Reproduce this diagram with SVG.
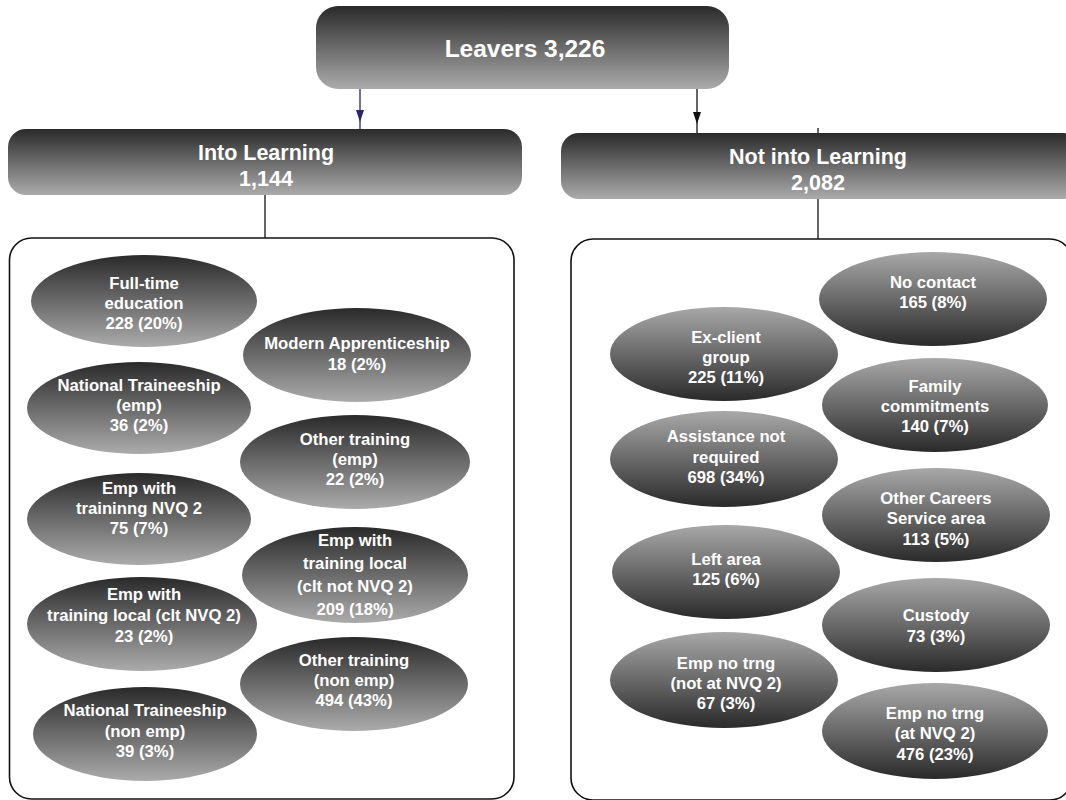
<svg xmlns="http://www.w3.org/2000/svg" width="1066" height="800" viewBox="0 0 1066 800">
  <defs>
    <!-- dark at the top, fading lighter downwards -->
    <linearGradient id="shadeDown" x1="0" y1="0" x2="0" y2="1">
      <stop offset="0" stop-color="#2a2a2a"/>
      <stop offset="1" stop-color="#ababab"/>
    </linearGradient>
    <!-- light at the top, fading darker downwards -->
    <linearGradient id="shadeUp" x1="0" y1="0" x2="0" y2="1">
      <stop offset="0" stop-color="#a8a8a8"/>
      <stop offset="1" stop-color="#2a2a2a"/>
    </linearGradient>
    <!-- arrowheads drawn along +x so orient="auto" turns them with the line -->
    <marker id="headBlack" markerWidth="12" markerHeight="8" refX="12" refY="4" orient="auto" markerUnits="userSpaceOnUse" viewBox="0 0 12 8">
      <path d="M0 0 L12 4 L0 8 Z" fill="#111"/>
    </marker>
    <marker id="headBlue" markerWidth="12" markerHeight="8" refX="12" refY="4" orient="auto" markerUnits="userSpaceOnUse" viewBox="0 0 12 8">
      <path d="M0 0 L12 4 L0 8 Z" fill="#2b2370"/>
    </marker>
  </defs>
  <style>
    text { font-family: "Liberation Sans", Arial, sans-serif; font-weight: bold; fill: #ffffff; text-anchor: middle; }
    .title { font-size: 24.5px; }
    .sub { font-size: 21.5px; }
    .lbl { font-size: 16.7px; }
    .box { fill: url(#shadeDown); }
    .inL { fill: url(#shadeDown); }
    .notL { fill: url(#shadeUp); }
    .frame { fill: none; stroke: #111; stroke-width: 1.6; }
    .wire { fill: none; stroke: #111; stroke-width: 1.3; }
  </style>

  <rect width="1066" height="800" fill="#ffffff"/>

  <!-- connectors -->
  <g id="connectors">
    <path class="wire" d="M360 89 V122 V129" style="stroke:#2b2370" marker-mid="url(#headBlue)"/>
    <path class="wire" d="M697 89 V124 V133" marker-mid="url(#headBlack)"/>
    <path class="wire" d="M818 128 V133"/>
    <path class="wire" d="M265 195 V238"/>
    <path class="wire" d="M818 199 V239"/>
  </g>

  <!-- top node -->
  <g id="leavers">
    <rect class="box" x="316" y="6" width="413" height="83" rx="22"/>
    <text class="title" x="525" y="57">Leavers 3,226</text>
  </g>

  <g id="into-learning">
    <rect class="box" x="8" y="129" width="514" height="66" rx="18"/>
    <text class="sub" x="266" y="160">Into Learning</text>
    <text class="sub" x="266" y="186">1,144</text>
  </g>

  <g id="not-into-learning">
    <rect class="box" x="561" y="133" width="520" height="66" rx="18"/>
    <text class="sub" x="818" y="164">Not into Learning</text>
    <text class="sub" x="818" y="190">2,082</text>
  </g>

  <!-- group frames -->
  <g id="into-learning-frame">
    <rect class="frame" x="9.5" y="238" width="504.5" height="561" rx="22"/>
  </g>
  <g id="not-into-learning-frame">
    <rect class="frame" x="571" y="239" width="501" height="561" rx="22"/>
  </g>

  <!-- destinations: into learning -->
  <g id="full-time-education">
    <ellipse class="inL" cx="144" cy="301" rx="113" ry="46"/>
    <text class="lbl" x="144" y="289">Full-time</text>
    <text class="lbl" x="144" y="309">education</text>
    <text class="lbl" x="144" y="329">228 (20%)</text>
  </g>
  <g id="modern-apprenticeship">
    <ellipse class="inL" cx="357" cy="355" rx="114" ry="47"/>
    <text class="lbl" x="357" y="349">Modern Apprenticeship</text>
    <text class="lbl" x="357" y="370">18 (2%)</text>
  </g>
  <g id="national-traineeship-emp">
    <ellipse class="inL" cx="139" cy="408" rx="112" ry="46"/>
    <text class="lbl" x="139" y="391">National Traineeship</text>
    <text class="lbl" x="139" y="411">(emp)</text>
    <text class="lbl" x="139" y="431">36 (2%)</text>
  </g>
  <g id="other-training-emp">
    <ellipse class="inL" cx="355" cy="462" rx="115" ry="47"/>
    <text class="lbl" x="355" y="445">Other training</text>
    <text class="lbl" x="355" y="465">(emp)</text>
    <text class="lbl" x="355" y="485">22 (2%)</text>
  </g>
  <g id="emp-training-nvq2">
    <ellipse class="inL" cx="139" cy="519" rx="112" ry="46"/>
    <text class="lbl" x="139" y="494">Emp with</text>
    <text class="lbl" x="139" y="514">traininng NVQ 2</text>
    <text class="lbl" x="139" y="534">75 (7%)</text>
  </g>
  <g id="emp-training-local-not-nvq2">
    <ellipse class="inL" cx="355" cy="575" rx="113" ry="48"/>
    <text class="lbl" x="355" y="546">Emp with</text>
    <text class="lbl" x="355" y="569">training local</text>
    <text class="lbl" x="355" y="592">(clt not NVQ 2)</text>
    <text class="lbl" x="355" y="615">209 (18%)</text>
  </g>
  <g id="emp-training-local-nvq2">
    <ellipse class="inL" cx="142" cy="624" rx="115" ry="47"/>
    <text class="lbl" x="144" y="600">Emp with</text>
    <text class="lbl" x="144" y="621">training local (clt NVQ 2)</text>
    <text class="lbl" x="144" y="642">23 (2%)</text>
  </g>
  <g id="other-training-non-emp">
    <ellipse class="inL" cx="354" cy="684" rx="114" ry="47"/>
    <text class="lbl" x="354" y="666">Other training</text>
    <text class="lbl" x="354" y="686">(non emp)</text>
    <text class="lbl" x="354" y="706">494 (43%)</text>
  </g>
  <g id="national-traineeship-non-emp">
    <ellipse class="inL" cx="145" cy="734" rx="112" ry="47"/>
    <text class="lbl" x="145" y="716">National Traineeship</text>
    <text class="lbl" x="145" y="737">(non emp)</text>
    <text class="lbl" x="145" y="757">39 (3%)</text>
  </g>

  <!-- destinations: not into learning -->
  <g id="no-contact">
    <ellipse class="notL" cx="933" cy="299" rx="114" ry="47"/>
    <text class="lbl" x="933" y="288">No contact</text>
    <text class="lbl" x="933" y="308">165 (8%)</text>
  </g>
  <g id="ex-client-group">
    <ellipse class="notL" cx="724" cy="354" rx="114" ry="47"/>
    <text class="lbl" x="726" y="343">Ex-client</text>
    <text class="lbl" x="726" y="363">group</text>
    <text class="lbl" x="726" y="383">225 (11%)</text>
  </g>
  <g id="family-commitments">
    <ellipse class="notL" cx="935" cy="405" rx="113" ry="47"/>
    <text class="lbl" x="935" y="392">Family</text>
    <text class="lbl" x="935" y="412">commitments</text>
    <text class="lbl" x="935" y="432">140 (7%)</text>
  </g>
  <g id="assistance-not-required">
    <ellipse class="notL" cx="724" cy="459" rx="114" ry="48"/>
    <text class="lbl" x="726" y="442">Assistance not</text>
    <text class="lbl" x="726" y="463">required</text>
    <text class="lbl" x="726" y="483">698 (34%)</text>
  </g>
  <g id="other-careers-service-area">
    <ellipse class="notL" cx="936" cy="515" rx="114" ry="47"/>
    <text class="lbl" x="936" y="504">Other Careers</text>
    <text class="lbl" x="936" y="524">Service area</text>
    <text class="lbl" x="936" y="545">113 (5%)</text>
  </g>
  <g id="left-area">
    <ellipse class="notL" cx="726" cy="572" rx="114" ry="47"/>
    <text class="lbl" x="726" y="565">Left area</text>
    <text class="lbl" x="726" y="585">125 (6%)</text>
  </g>
  <g id="custody">
    <ellipse class="notL" cx="936" cy="625" rx="114" ry="47"/>
    <text class="lbl" x="936" y="621">Custody</text>
    <text class="lbl" x="936" y="642">73 (3%)</text>
  </g>
  <g id="emp-no-trng-not-nvq2">
    <ellipse class="notL" cx="724" cy="680" rx="114" ry="48"/>
    <text class="lbl" x="726" y="669">Emp no trng</text>
    <text class="lbl" x="726" y="689">(not at NVQ 2)</text>
    <text class="lbl" x="726" y="709">67 (3%)</text>
  </g>
  <g id="emp-no-trng-nvq2">
    <ellipse class="notL" cx="935" cy="731" rx="113" ry="48"/>
    <text class="lbl" x="935" y="719">Emp no trng</text>
    <text class="lbl" x="935" y="739">(at NVQ 2)</text>
    <text class="lbl" x="935" y="760">476 (23%)</text>
  </g>
</svg>
